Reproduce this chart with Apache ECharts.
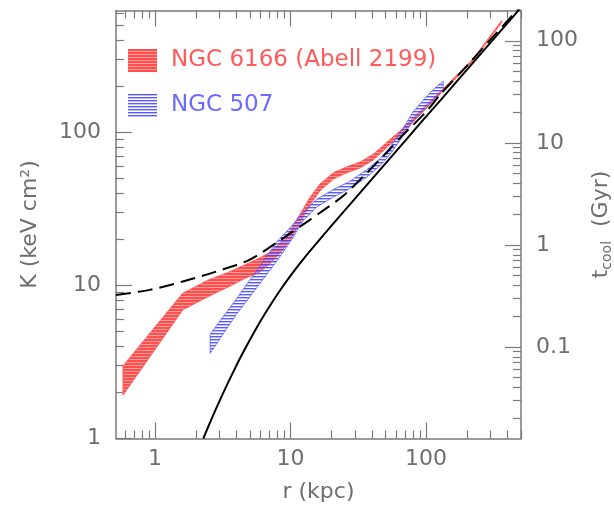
<!DOCTYPE html>
<html>
<head>
<meta charset="utf-8">
<script src="https://cdn.jsdelivr.net/npm/echarts@6/dist/echarts.min.js"></script>
<style>
  html, body { margin: 0; padding: 0; background: #fff; }
  #chart { width: 614px; height: 509px; }
</style>
</head>
<body>
<div id="chart"></div>
<script>
// Entropy profiles K(r) of two systems, with the matching cooling-time scale on the right.

// NGC 6166 (Abell 2199): radius (kpc) and lower / upper edge of the K band (keV cm^2)
const redR    = [0.58, 1.6, 2.5, 3.5, 4.5, 5.9, 7.0, 8.0, 9.0, 10, 11.7, 13.9, 16.5, 20.7, 26, 32.6, 40.8, 51.3, 64.3, 85.4, 107, 127, 223, 362];
const redLow  = [1.92, 6.92, 8.5, 9.8, 11.0, 12.2, 13.8, 15.6, 17.6, 20.0, 25.5, 33.5, 41.5, 49.5, 54.5, 58.5, 66, 79.5, 95.5, 123.5, 152, 177, 293, 522];
const redHigh = [2.98, 8.89, 10.9, 12.2, 13.5, 15.1, 16.4, 18.2, 20.4, 23.0, 29.0, 37.5, 46.0, 54.5, 59.5, 64, 72, 86, 102, 131, 159, 184, 303, 538];

// NGC 507
const blueR    = [2.55, 4.0, 6.0, 8.0, 10.0, 12.4, 15.6, 20.7, 27.5, 36.5, 45.8, 54.3, 68, 80.6, 101, 120, 134];
const blueLow  = [3.6, 6.5, 10.4, 14.6, 19.4, 26.5, 32.5, 37.8, 43.0, 51.0, 60.5, 72, 95, 120, 146, 172, 194];
const blueHigh = [4.8, 8.2, 13.6, 19.5, 24.0, 30.0, 36.5, 42.3, 48.0, 57.0, 67.5, 80, 107, 137, 172, 200, 216];

// Dashed reference profile
const dashedR = [0.515, 0.91, 1.6, 2.82, 4.97, 7.8, 10.4, 12.8, 18.0, 24.9, 35.5, 49.9, 64.3, 100, 127, 200, 300, 400, 500];
const dashedK = [8.67, 9.35, 10.6, 12.3, 14.7, 18.9, 22.5, 25.5, 31.5, 39.0, 53, 72, 92, 136, 176, 272, 405, 537, 668];

// Solid baseline profile
const baseR = [2.27, 2.6, 3.0, 3.5, 4.0, 4.5, 5.5, 6.5, 8, 10, 13, 20, 30, 40, 60, 90, 130, 200, 300, 400, 500];
const baseK = [1.0, 1.33, 1.77, 2.37, 3.02, 3.7, 5.12, 6.58, 8.76, 11.6, 15.6, 24.5, 37, 49.6, 75, 114, 165, 256, 387, 519, 652];

// Tick positions
const rMajor = [1, 10, 100];
const rMinor = [0.6, 0.7, 0.8, 0.9, 2, 3, 4, 5, 6, 7, 8, 9, 20, 30, 40, 50, 60, 70, 80, 90, 200, 300, 400, 500];
const kMajor = [1, 10, 100];
const kMinor = [2, 3, 4, 5, 6, 7, 8, 9, 20, 30, 40, 50, 60, 70, 80, 90, 200, 300, 400, 500, 600];
const tMajor = [0.1, 1, 10, 100];
const tMinor = [0.02, 0.03, 0.04, 0.05, 0.06, 0.07, 0.08, 0.09, 0.2, 0.3, 0.4, 0.5, 0.6, 0.7, 0.8, 0.9,
                2, 3, 4, 5, 6, 7, 8, 9, 20, 30, 40, 50, 60, 70, 80, 90, 200];

const R_MIN = 0.515, R_MAX = 502;
const K_MIN = 1, K_MAX = 625;
// cooling time scales as K^1.5; t_cool = 1 Gyr at K = 18.4 keV cm^2
const K_AT_1GYR = 18.4;
const tcool = k => Math.pow(k / K_AT_1GYR, 1.5);

const GRAY = '#7a7a7a';
const FONT = 'DejaVu Sans';
const TEXT = '#6e6e6e';
const labelStyle = { fontFamily: FONT, fontSize: 22, color: TEXT };
const fmt = v => String(+Number(v).toPrecision(6));

// horizontal-line fill patterns
function stripes(rows) {
  const c = document.createElement('canvas');
  c.width = 8; c.height = rows.length;
  const g = c.getContext('2d');
  rows.forEach((col, i) => { g.fillStyle = col; g.fillRect(0, i, 8, 1); });
  return { image: c, repeat: 'repeat' };
}
const redFill  = stripes(['#ff4e4e', '#ff4e4e', '#ff9d9d']);
const blueFill = stripes(['rgba(70,70,255,0.9)', 'rgba(110,110,255,0.45)', 'rgba(255,255,255,0)']);

function band(name, xs, lo, hi, fill, stroke) {
  return {
    name, type: 'custom', xAxisIndex: 0, yAxisIndex: 0,
    data: xs.map((x, i) => [x, lo[i], hi[i]]),
    encode: { x: 0, y: [1, 2] },
    itemStyle: { color: fill },
    silent: true,
    renderItem(params, api) {
      if (params.dataIndexInside !== 0) return null;
      const n = params.dataInsideLength;
      const top = [], bottom = [];
      for (let i = 0; i < n; i++) {
        const x = api.value(0, i);
        top.push(api.coord([x, api.value(2, i)]));
        bottom.push(api.coord([x, api.value(1, i)]));
      }
      return {
        type: 'polygon',
        shape: { points: top.concat(bottom.reverse()) },
        style: { fill: fill, stroke: stroke, lineWidth: 0.8 }
      };
    }
  };
}

function axis(base, extra) {
  return Object.assign({
    type: 'log', gridIndex: 0, logBase: 10,
    splitLine: { show: false },
    axisLine: { show: false },
    axisLabel: { show: false },
    axisTick: { show: false },
    nameMoveOverlap: false
  }, base, extra);
}
const lineOn = { show: true, lineStyle: { color: GRAY, width: 1.5 } };
const ticks = (vals, len) => ({ show: true, inside: true, length: len, customValues: vals,
                                lineStyle: { color: GRAY, width: 1.2 } });

const rBase = { min: R_MIN, max: R_MAX };
const kBase = { min: K_MIN, max: K_MAX };
const tBase = { min: tcool(K_MIN), max: tcool(K_MAX) };

const option = {
  animation: false,
  backgroundColor: '#fff',
  grid: { left: 116, top: 10.5, width: 405, height: 428, outerBoundsMode: 'none' },
  legend: {
    left: 123, top: 44, orient: 'vertical', icon: 'rect',
    itemWidth: 29, itemHeight: 23, itemGap: 22, selectedMode: false,
    textStyle: { fontFamily: FONT, fontSize: 23, padding: [0, 0, 0, 9] },
    data: [
      { name: 'NGC 6166 (Abell 2199)', textStyle: { color: '#ff5a5a' }, itemStyle: { color: redFill } },
      { name: 'NGC 507', textStyle: { color: '#6b6bff' }, itemStyle: { color: blueFill } }
    ]
  },
  xAxis: [
    axis(rBase, {
      position: 'bottom', axisLine: lineOn, axisTick: ticks(rMajor, 16),
      axisLabel: Object.assign({ show: true, customValues: rMajor, margin: 10, formatter: fmt }, labelStyle),
      name: 'r (kpc)', nameLocation: 'middle', nameGap: 43, nameTextStyle: labelStyle
    }),
    axis(rBase, { position: 'bottom', axisTick: ticks(rMinor, 8) }),
    axis(rBase, { position: 'top', axisLine: lineOn, axisTick: ticks(rMajor, 16) }),
    axis(rBase, { position: 'top', axisTick: ticks(rMinor, 8) })
  ],
  yAxis: [
    axis(kBase, {
      position: 'left', axisLine: lineOn, axisTick: ticks(kMajor, 16),
      axisLabel: Object.assign({ show: true, customValues: kMajor, margin: 15, formatter: fmt }, labelStyle),
      name: 'K (keV cm²)', nameLocation: 'middle', nameGap: 75, nameTextStyle: labelStyle
    }),
    axis(kBase, { position: 'left', axisTick: ticks(kMinor, 8) }),
    axis(tBase, {
      position: 'right', axisLine: lineOn, axisTick: ticks(tMajor, 16),
      axisLabel: Object.assign({ show: true, customValues: tMajor, margin: 15, formatter: fmt }, labelStyle),
      name: '{m|t}{s|cool}{m|  (Gyr)}', nameLocation: 'middle', nameGap: 67,
      nameTextStyle: {
        fontFamily: FONT, color: TEXT,
        rich: {
          m: { fontFamily: FONT, fontSize: 22, color: TEXT, lineHeight: 26 },
          s: { fontFamily: FONT, fontSize: 14, color: TEXT, lineHeight: 10, verticalAlign: 'bottom' }
        }
      }
    }),
    axis(tBase, { position: 'right', axisTick: ticks(tMinor, 8) })
  ],
  series: [
    band('NGC 6166 (Abell 2199)', redR, redLow, redHigh, redFill, '#ff4a4a'),
    band('NGC 507', blueR, blueLow, blueHigh, blueFill, 'rgba(80,80,255,0.9)'),
    {
      name: 'baseline', type: 'line', xAxisIndex: 0, yAxisIndex: 0,
      data: baseR.map((r, i) => [r, baseK[i]]),
      symbol: 'none', smooth: 0.3, silent: true, clip: true,
      lineStyle: { color: '#000', width: 2 }
    },
    {
      name: 'reference', type: 'line', xAxisIndex: 0, yAxisIndex: 0,
      data: dashedR.map((r, i) => [r, dashedK[i]]),
      symbol: 'none', smooth: 0.3, silent: true, clip: true,
      lineStyle: { color: '#000', width: 2, type: [15, 7] }
    }
  ]
};

echarts.init(document.getElementById('chart'), null, { renderer: 'canvas' }).setOption(option);
</script>
</body>
</html>
